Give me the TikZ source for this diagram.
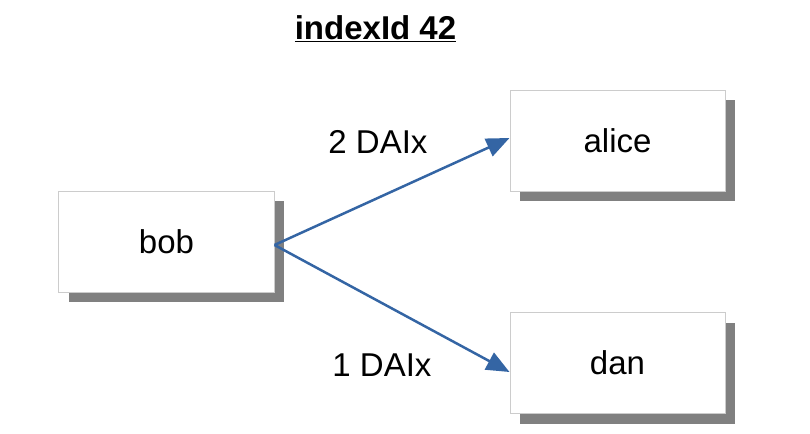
\documentclass[tikz,border=0pt]{standalone}
\usepackage{fontspec}
\setmainfont{Liberation Sans}
\usetikzlibrary{positioning, arrows.meta, shadows}
\definecolor{boxline}{HTML}{CCCCCC}
\definecolor{flowblue}{HTML}{3465A4}
\tikzset{
	x=1bp, y=1bp,
	every node/.style={font=\fontsize{33bp}{39bp}\selectfont},
	person/.style={draw=boxline, line width=1bp, fill=white, minimum width=215bp, minimum height=101bp, inner sep=0pt,
		drop shadow={shadow xshift=10bp, shadow yshift=-10bp, fill=black!50, opacity=1}},
	transfer/.style={draw=flowblue, line width=2.5bp, -{Triangle[length=23bp, width=19bp]}},
}

\begin{document}
\begin{tikzpicture}
			\useasboundingbox (0,0) rectangle (810,-434);
			\node[person] (bob) at (166.5,-242) {bob};
			\node[person, right=235bp of bob, yshift=101bp] (alice) {alice};
			\node[person, right=235bp of bob, yshift=-121bp] (dan) {dan};
			\node (title) at (375.5,-29) {\underline{\textbf{indexId 42}}};
			
			
			\draw[transfer] ([yshift=-3bp]bob.east) -- ([yshift=3bp]alice.west) node[midway, xshift=-14bp, yshift=50bp]{2 DAIx};
			\draw[transfer] ([yshift=-3bp]bob.east) -- ([yshift=-9bp]dan.west) node[midway, xshift=-10bp, yshift=-57bp]{1 DAIx};
		\end{tikzpicture}
\end{document}
